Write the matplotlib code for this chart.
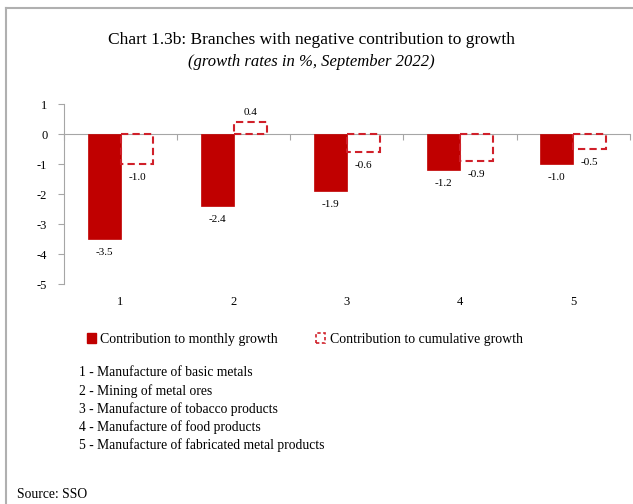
import numpy as np
import matplotlib.pyplot as plt
from matplotlib.patches import Patch
from matplotlib.lines import Line2D

plt.rcParams['font.family'] = ['Liberation Serif', 'DejaVu Serif']

# Datos
categorias = ['1', '2', '3', '4', '5']
mensual = [-3.5, -2.4, -1.9, -1.2, -1.0]
acumulado = [-1.0, 0.4, -0.6, -0.9, -0.5]
ramas = ['1 - Manufacture of basic metals',
         '2 - Mining of metal ores',
         '3 - Manufacture of tobacco products',
         '4 - Manufacture of food products',
         '5 - Manufacture of fabricated metal products']

rojo = '#C00000'
rojo_borde = '#D0202A'
gris = '#A6A6A6'

fig = plt.figure(figsize=(6.33, 5.04), dpi=100)
ax = fig.add_axes([0.101, 0.4365, 0.894, 0.357])

x = np.arange(len(categorias))
w = 0.29
ax.bar(x - w / 2, mensual, w, color=rojo, edgecolor=rojo, linewidth=0.5, zorder=3)
ax.bar(x + w / 2, acumulado, w, facecolor='none', edgecolor=rojo_borde,
       linewidth=1.5, linestyle=(0, (3.5, 2)), zorder=3)

# Etiquetas de valores
for xi, v in zip(x - w / 2, mensual):
    ax.annotate(f'{v:.1f}', (xi, v), xytext=(0, -10 if v < 0 else 7),
                textcoords='offset points', ha='center', va='center', fontsize=8)
for xi, v in zip(x + w / 2, acumulado):
    ax.annotate(f'{v:.1f}', (xi, v), xytext=(0, -10 if v < 0 else 7),
                textcoords='offset points', ha='center', va='center', fontsize=8)

ax.set_xlim(-0.5, len(categorias) - 0.5)
ax.set_ylim(-5, 1)
ax.set_yticks(range(-5, 2))
ax.set_yticklabels([str(t) for t in range(-5, 2)], fontsize=9)

ax.spines['top'].set_visible(False)
ax.spines['right'].set_visible(False)
ax.spines['left'].set_color(gris)
ax.spines['bottom'].set_color(gris)
ax.spines['bottom'].set_position(('data', 0))
ax.set_xticks(np.arange(-0.5, len(categorias), 1))
ax.set_xticklabels([])
ax.tick_params(axis='x', direction='out', length=4, color=gris)
ax.tick_params(axis='y', direction='out', length=4, color=gris, pad=8)
for xi, c in zip(x, categorias):
    ax.text(xi, -0.1, c, transform=ax.get_xaxis_transform(),
            ha='center', va='center', fontsize=9)

# Título
fig.text(0.492, 0.921, 'Chart 1.3b: Branches with negative contribution to growth',
         ha='center', va='center', fontsize=12.5)
fig.text(0.492, 0.877, '(growth rates in %, September 2022)',
         ha='center', va='center', fontsize=12, style='italic')

# Leyenda
handles = [Patch(facecolor=rojo, edgecolor=rojo),
           Patch(facecolor='white', edgecolor=rojo_borde, linestyle=(0, (2, 1.5)), linewidth=1.2)]
fig.legend(handles, ['Contribution to monthly growth', 'Contribution to cumulative growth'],
           loc='center left', bbox_to_anchor=(0.117, 0.327), ncol=2, frameon=False,
           fontsize=10, handlelength=0.7, handleheight=0.7, handletextpad=0.3,
           columnspacing=2.7)

# Lista de ramas
for i, r in enumerate(ramas):
    fig.text(0.125, 1 - (373 + 18 * i) / 504, r, ha='left', va='center', fontsize=9.8)

fig.text(0.027, 1 - 494 / 504, 'Source: SSO', ha='left', va='center', fontsize=9.8)

# Marco
fig.add_artist(Line2D([0.010, 0.010], [0, 0.984], transform=fig.transFigure, color='#B0B0B0', lw=1.5))
fig.add_artist(Line2D([0.010, 1.0], [0.984, 0.984], transform=fig.transFigure, color='#B0B0B0', lw=1.5))

fig.savefig('out.png', dpi=100)
